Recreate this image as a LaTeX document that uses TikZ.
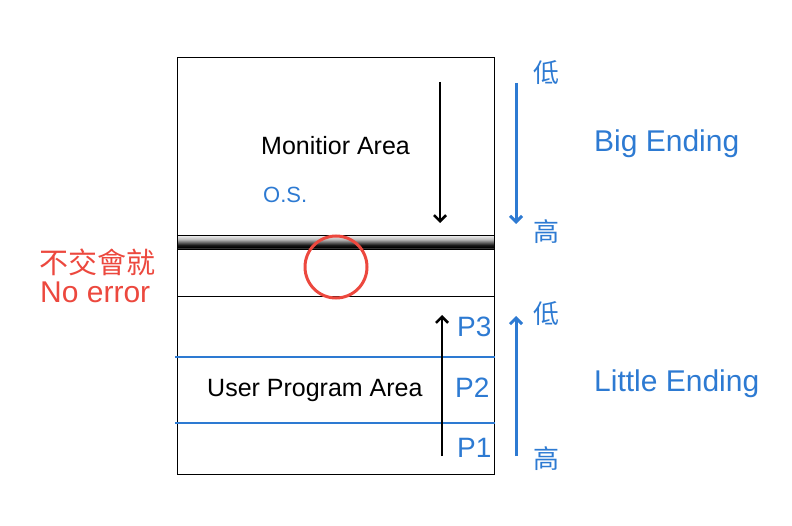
\documentclass[tikz,border=0pt]{standalone}
\usepackage{fontspec}
\setmainfont{Liberation Sans}
\newfontfamily\cjk{Noto Sans CJK TC}
\usetikzlibrary{arrows.meta, positioning}
\definecolor{keyblue}{RGB}{45,122,210}
\definecolor{keyred}{RGB}{236,72,62}
\pgfdeclareverticalshading{bandshade}{100bp}{color(0bp)=(gray!60); color(25bp)=(gray!60);
  color(31bp)=(black); color(40bp)=(black!90); color(60bp)=(gray!55); color(75bp)=(gray!10); color(100bp)=(gray!10)}

\begin{document}
\begin{tikzpicture} [x = 1pt, y = -1pt, every node/.style = {inner sep = 0pt},
blue label/.style = {text = keyblue, font = \fontsize{28}{32}\selectfont},
side label/.style = {text = keyblue, font = \fontsize{30}{34}\selectfont},
area label/.style = {font = \fontsize{25}{29}\selectfont},
cjk label/.style = {text = keyblue, font = \cjk\fontsize{26}{30}\selectfont},
barb/.style = {-{Straight Barb[length=6pt, width=12pt]}}]

\useasboundingbox (0,0) rectangle (792,526);

% memory block
\node (mem) [draw, thick, minimum width = 317pt, minimum height = 417pt, anchor = north west] at (177,57) {};
\node (band) [draw, anchor = north west, minimum width = 317pt, minimum height = 14pt,
  shading = bandshade] at (177,235) {};
\draw [thick] (mem.west |- 0,296) -- (mem.east |- 0,296);
\draw [keyblue, line width = 2pt] (175,357) -- (mem.east |- 0,357);
\draw [keyblue, line width = 2pt] (175,423) -- (mem.east |- 0,423);
\node (gap) [circle, draw = keyred, line width = 3pt, minimum size = 62pt] at (336,267) {};

% texts
\node (mon) [area label, anchor = base west] at (261,155) {Monitior Area};
\node (os) [blue label, font = \fontsize{22}{26}\selectfont, anchor = base west] at (263,203) {O.S.};
\node (user) [area label, anchor = base west] at (207,396) {User Program Area};
\node (p3) [blue label, anchor = base west] at (457,337) {P3};
\node (p2) [blue label, anchor = base west] at (455,397) {P2};
\node (p1) [blue label, anchor = base west] at (457,457) {P1};
\node (big) [side label, anchor = base west] at (594,152) {Big Ending};
\node (little) [side label, anchor = base west] at (594,391) {Little Ending};
\node (low1) [cjk label] at (546,73) {低};
\node (high1) [cjk label] at (546,232) {高};
\node (low2) [cjk label] at (546,314) {低};
\node (high2) [cjk label] at (546,459) {高};
\node (note) [text = keyred, font = \cjk\fontsize{29}{33}\selectfont, anchor = west] at (39,262) {不交會就};
\node (err) [text = keyred, font = \fontsize{30}{34}\selectfont, anchor = base west] at (40,303) {No error};

% arrows
\coordinate (a1) at (440,82);  \coordinate (a2) at (440,223);
\coordinate (b1) at (442,456); \coordinate (b2) at (442,315);
\coordinate (c1) at (516,83);  \coordinate (c2) at (516,224);
\coordinate (d1) at (516,456); \coordinate (d2) at (516,316);

\path [barb, line width = 2.6pt]
    (a1) edge (a2)
    (b1) edge (b2);
\path [barb, line width = 3pt, keyblue]
    (c1) edge (c2)
    (d1) edge (d2);
\end{tikzpicture}
\end{document}
